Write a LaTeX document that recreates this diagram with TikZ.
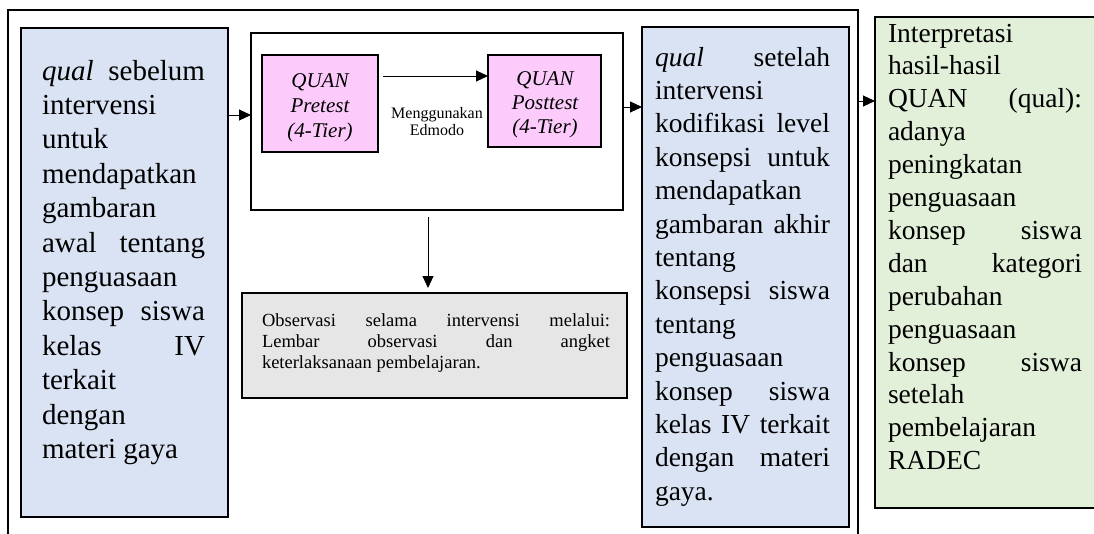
\documentclass[tikz,border=0pt]{standalone}
\usepackage{fontspec}
\setmainfont{Liberation Serif}
\usetikzlibrary{arrows.meta,calc}
\definecolor{blueF}{HTML}{DAE3F3}
\definecolor{greenF}{HTML}{E2EFD9}
\definecolor{pinkF}{HTML}{FCCBFC}
\definecolor{grayF}{HTML}{E6E6E6}
\newcommand\jl[2]{\makebox[#1][s]{\spaceskip=0pt\xspaceskip=0pt #2}}
\newcommand\rs{\spaceskip=0pt\xspaceskip=0pt}
\tikzset{
  box/.style={draw=black, line width=1.7pt, inner sep=0pt, outer sep=0pt, anchor=north west},
  framebox/.style={draw=black, line width=1.3pt, inner sep=0pt, outer sep=0pt, anchor=north west},
  txt/.style={inner sep=0pt, outer sep=0pt, anchor=base west, align=left},
  ctxt/.style={inner sep=0pt, outer sep=0pt, anchor=base, align=center},
  arr/.style={-{Triangle[length=12pt,width=11pt]}, line width=1pt},
}
\begin{document}
\begin{tikzpicture}[x=1pt,y=-1pt]
\useasboundingbox (0,0) rectangle (1094,533);
\clip (0,0) rectangle (1094,533);
% outer frame
\node[framebox, minimum width=850, minimum height=560] (fr) at (8,10) {};
% left blue box
\node[box, fill=blueF, minimum width=207, minimum height=489] (lb) at (21,28) {};
\node[txt, text width=163pt, font=\fontsize{29}{34.4}\selectfont] (lt) at (42,80) {\rs
\jl{163pt}{\textit{qual} sebelum}\\
intervensi\\
untuk\\
mendapatkan\\
gambaran\\
\jl{163pt}{awal tentang}\\
penguasaan\\
\jl{163pt}{konsep siswa}\\
\jl{163pt}{kelas IV}\\
terkait\\
dengan\\
materi gaya};
% inner white box
\node[box, fill=white, minimum width=372, minimum height=177] (inner) at (251,33) {};
\node[box, fill=pinkF, minimum width=116, minimum height=97] (pre) at (262,55) {};
\node[ctxt, text width=110pt, font=\itshape\fontsize{21}{25}\selectfont] (pret) at (320,87) {QUAN\\Pretest\\(4-Tier)};
\node[box, fill=pinkF, minimum width=113, minimum height=92] (post) at (488,55) {};
\node[ctxt, text width=110pt, font=\itshape\fontsize{21}{24}\selectfont] (postt) at (545,85) {QUAN\\Posttest\\(4-Tier)};
\node[ctxt, text width=100pt, font=\fontsize{16}{17}\selectfont] (lab) at (437,118) {Menggunakan\\Edmodo};
% gray box
\node[box, fill=grayF, minimum width=385, minimum height=105] (gray) at (242,293) {};
\node[txt, text width=348pt, font=\fontsize{18.5}{21}\selectfont] (gt) at (262,326) {\rs
\jl{348pt}{Observasi selama intervensi melalui:}\\
\jl{348pt}{Lembar observasi dan angket}\\
keterlaksanaan pembelajaran.};
% right blue box
\node[box, fill=blueF, minimum width=207, minimum height=500] (rb) at (642,27) {};
\node[txt, text width=175pt, font=\fontsize{27.5}{33.4}\selectfont] (rt) at (655,66) {\rs
\jl{175pt}{\textit{qual} setelah}\\
intervensi\\
\jl{175pt}{kodifikasi level}\\
\jl{175pt}{konsepsi untuk}\\
mendapatkan\\
\jl{175pt}{gambaran akhir}\\
tentang\\
\jl{175pt}{konsepsi siswa}\\
tentang\\
penguasaan\\
\jl{175pt}{konsep siswa}\\
\jl{175pt}{kelas IV terkait}\\
\jl{175pt}{dengan materi}\\
gaya.};
% green box
\node[box, fill=greenF, minimum width=240, minimum height=491] (gb) at (875,17) {};
\node[txt, text width=194pt, font=\fontsize{27.5}{32.9}\selectfont] (gtx) at (888,42) {\rs
Interpretasi\\
hasil-hasil\\
\jl{194pt}{QUAN (qual):}\\
adanya\\
peningkatan\\
penguasaan\\
\jl{194pt}{konsep siswa}\\
\jl{194pt}{dan kategori}\\
perubahan\\
penguasaan\\
\jl{194pt}{konsep siswa}\\
setelah\\
pembelajaran\\
RADEC};
% connectors
\coordinate (ya) at (0,115);
\coordinate (yb) at (0,76);
\coordinate (xc) at (428,0);
\coordinate (yc) at (0,107);
\coordinate (yd) at (0,101);
\draw[arr] (lb.east |- ya) -- (inner.west |- ya);
\draw[arr, shorten <=5pt] (pre.east |- yb) -- (post.west |- yb);
\draw[arr, shorten <=7pt, shorten >=5pt] (inner.south -| xc) -- (gray.north -| xc);
\draw[arr] (inner.east |- yc) -- (rb.west |- yc);
\draw[arr] (fr.east |- yd) -- (gb.west |- yd);
\end{tikzpicture}
\end{document}
